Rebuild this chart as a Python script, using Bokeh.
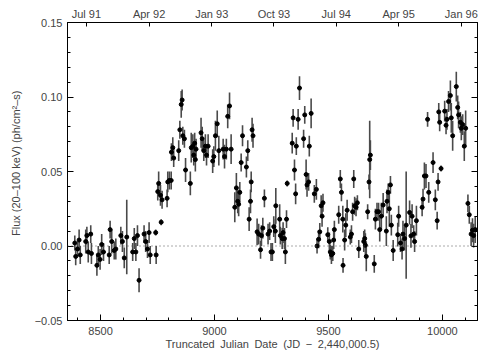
from bokeh.plotting import figure
from bokeh.models import Range1d, LinearAxis, FixedTicker, Span, ColumnDataSource
from bokeh.embed import file_html
from bokeh.resources import INLINE

# Truncated Julian Date of each measurement
tjd = [8387, 8391, 8399, 8406, 8411, 8435, 8440, 8446, 8457, 8460,
       8484, 8490, 8498, 8505, 8513, 8538, 8542, 8549, 8560, 8567,
       8589, 8596, 8604, 8615, 8641, 8648, 8655, 8662, 8669, 8691,
       8698, 8706, 8713, 8718, 8742, 8744, 8766,
       8751, 8755, 8763, 8770, 8792, 8795, 8802, 8810, 8811, 8817,
       8821, 8843, 8848, 8854, 8858, 8861, 8868, 8873, 8894, 8898,
       8905, 8909, 8913, 8916, 8919, 8941, 8946, 8953, 8960, 8965,
       8972, 8992, 8997, 9004, 9012, 9019, 9038, 9044, 9052, 9058,
       9066, 9073, 9089,
       9096, 9102, 9106, 9111, 9117, 9123, 9140, 9146, 9152, 9158,
       9161, 9165, 9169, 9187, 9194, 9202, 9206, 9212, 9219, 9235,
       9242, 9248, 9254, 9260, 9267, 9269, 9286, 9289, 9297, 9301,
       9307, 9311, 9316, 9319, 9341, 9345, 9351, 9356, 9359, 9367,
       9373, 9391, 9396, 9402, 9406, 9413, 9416, 9424, 9438,
       9447, 9450, 9457, 9462, 9468, 9472, 9476, 9497, 9504, 9508,
       9513, 9519, 9523, 9526, 9545, 9552, 9557, 9563, 9564, 9571,
       9576, 9582, 9596, 9601, 9606, 9611, 9615, 9621, 9627, 9633,
       9655, 9659, 9662, 9666, 9672, 9678, 9681, 9684, 9701, 9706,
       9713, 9720, 9725, 9732, 9740, 9754, 9757, 9762, 9767, 9772,
       9776, 9784,
       9804, 9808, 9816, 9823, 9827, 9834, 9841, 9856, 9862, 9867,
       9874, 9878, 9886, 9911, 9915, 9921, 9928, 9935, 9940, 9959,
       9969, 9977, 9981, 9984, 9988, 9994, 10010, 10016, 10020, 10027,
       10035, 10039, 10045, 10061, 10067, 10071, 10079, 10083, 10089, 10096,
       10102, 10112, 10118, 10126, 10132, 10137, 10144]

# Flux (20-100 keV), ph/cm^2-s
flux = [0.002, -0.007, -0.002, 0.004, -0.006, 0.003, 0.007, -0.004, 0.008, -0.005,
        -0.013, -0.006, -0.009, 0.001, -0.004, -0.006, 0.011, 0.003, -0.003, -0.002,
        0.007, 0.003, -0.008, 0.006, -0.004, 0.005, -0.004, 0.007, -0.023, 0.008,
        0.003, -0.002, 0.009, -0.006, 0.009, -0.006, 0.016,
        0.0365, 0.042, 0.034, 0.031, 0.032, 0.043, 0.044, 0.044, 0.063, 0.066,
        0.059, 0.064, 0.078, 0.095, 0.098, 0.074, 0.072, 0.051, 0.042, 0.066,
        0.067, 0.061, 0.069, 0.058, 0.065, 0.076, 0.072, 0.064, 0.067, 0.061,
        0.067, 0.057, 0.060, 0.074, 0.082, 0.064, 0.065, 0.060, 0.065, 0.087,
        0.094, 0.065, 0.026,
        0.039, 0.030, 0.028, 0.036, 0.056, 0.074, 0.053, 0.064, 0.018, 0.030,
        0.043, 0.078, 0.074, 0.0095, 0.008, -0.0025, 0.007, 0.012, 0.032, 0.008,
        0.010, -0.004, -0.004, 0.013, 0.010, 0.027, 0.018, 0.007, 0.005, 0.009,
        0.005, -0.004, 0.018, 0.042, 0.069, 0.086, 0.051, 0.035, 0.067, 0.085,
        0.106, 0.072, 0.088, 0.048, 0.041, 0.043, 0.067, 0.089, 0.035,
        0.038, 0.000, 0.0045, 0.0095, 0.027, 0.020, 0.029, 0.0076, 0.003, -0.004,
        -0.006, -0.005, 0.004, 0.011, 0.021, 0.045, 0.036, 0.018, -0.013, 0.004,
        0.014, 0.024, 0.006, 0.008, 0.023, 0.045, 0.027, 0.026, 0.029, -0.002,
        0.003, 0.005, 0.0005, -0.007, 0.023, 0.043, 0.058, 0.061, -0.012, 0.018,
        0.023, 0.023, 0.011, 0.020, 0.0275, 0.010, 0.030, 0.036, 0.025, 0.041,
        0.014, -0.003,
        0.0076, 0.020, 0.002, -0.002, 0.008, 0.005, 0.014, 0.0225, 0.0068, 0.020,
        0.008, 0.003, 0.017, 0.026, 0.0315, 0.047, 0.047, 0.085, 0.036, 0.056,
        0.031, 0.017, 0.043, 0.090, 0.083, 0.052, 0.0905, 0.081, 0.085, 0.097,
        0.101, 0.086, 0.074, 0.107, 0.093, 0.088, 0.083, 0.079, 0.0815, 0.067,
        0.079, 0.0286, 0.021, 0.008, 0.0106, 0.007, 0.011]

# 1-sigma uncertainty of each flux
err = [0.005, 0.006, 0.005, 0.007, 0.006, 0.008, 0.006, 0.007, 0.006, 0.007,
       0.007, 0.006, 0.007, 0.007, 0.006, 0.006, 0.006, 0.008, 0.006, 0.007,
       0.006, 0.007, 0.007, 0.025, 0.006, 0.007, 0.006, 0.007, 0.008, 0.006,
       0.007, 0.006, 0.007, 0.006, 0.002, 0.006, 0.002,
       0.006, 0.008, 0.007, 0.006, 0.006, 0.007, 0.006, 0.006, 0.006, 0.007,
       0.006, 0.007, 0.006, 0.009, 0.007, 0.006, 0.006, 0.008, 0.008, 0.010,
       0.008, 0.007, 0.007, 0.008, 0.007, 0.010, 0.008, 0.007, 0.008, 0.007,
       0.008, 0.008, 0.007, 0.010, 0.009, 0.010, 0.007, 0.008, 0.007, 0.008,
       0.009, 0.010, 0.010,
       0.010, 0.008, 0.008, 0.007, 0.006, 0.007, 0.007, 0.007, 0.008, 0.008,
       0.007, 0.008, 0.008, 0.009, 0.007, 0.006, 0.007, 0.007, 0.006, 0.007,
       0.006, 0.006, 0.006, 0.007, 0.008, 0.012, 0.010, 0.006, 0.007, 0.007,
       0.007, 0.008, 0.006, 0.002, 0.007, 0.006, 0.007, 0.007, 0.006, 0.007,
       0.008, 0.006, 0.006, 0.010, 0.008, 0.006, 0.007, 0.010, 0.006,
       0.007, 0.005, 0.006, 0.006, 0.007, 0.007, 0.006, 0.005, 0.006, 0.005,
       0.006, 0.005, 0.006, 0.006, 0.006, 0.006, 0.006, 0.009, 0.005, 0.007,
       0.008, 0.007, 0.005, 0.006, 0.006, 0.006, 0.006, 0.006, 0.005, 0.006,
       0.007, 0.006, 0.008, 0.010, 0.005, 0.005, 0.026, 0.010, 0.006, 0.007,
       0.006, 0.006, 0.008, 0.009, 0.008, 0.010, 0.008, 0.006, 0.012, 0.006,
       0.007, 0.007,
       0.008, 0.007, 0.006, 0.007, 0.009, 0.008, 0.036, 0.008, 0.008, 0.008,
       0.006, 0.007, 0.010, 0.006, 0.007, 0.009, 0.008, 0.005, 0.007, 0.007,
       0.007, 0.006, 0.006, 0.006, 0.006, 0.002, 0.007, 0.006, 0.007, 0.007,
       0.010, 0.010, 0.010, 0.010, 0.008, 0.009, 0.007, 0.008, 0.007, 0.010,
       0.012, 0.006, 0.006, 0.008, 0.008, 0.008, 0.009]

xticks = [8500, 9000, 9500, 10000]
xminor = [8400, 8600, 8700, 8800, 8900, 9100, 9200, 9300, 9400,
          9600, 9700, 9800, 9900, 10100]
date_ticks = [8438, 8713, 8988, 9261, 9534, 9808, 10083]
date_labels = ["Jul 91", "Apr 92", "Jan 93", "Oct 93", "Jul 94", "Apr 95", "Jan 96"]
yticks = [-0.05, 0.0, 0.05, 0.10, 0.15]
ylabels = ["\u22120.05", "0.00", "0.05", "0.10", "0.15"]
yminor = [-0.04, -0.03, -0.02, -0.01, 0.01, 0.02, 0.03, 0.04, 0.06, 0.07,
          0.08, 0.09, 0.11, 0.12, 0.13, 0.14]

FONT = "Liberation Sans"
TXT = "#444444"
FS = "11px"
SP = "\u2002"

lo = [f - e for f, e in zip(flux, err)]
hi = [f + e for f, e in zip(flux, err)]
src = ColumnDataSource(dict(x=tjd, y=flux, lo=lo, hi=hi))

p = figure(width=483, height=352, x_range=Range1d(8355, 10154), y_range=Range1d(-0.05, 0.15),
           output_backend="svg", toolbar_location=None,
           min_border_left=67, min_border_right=6, min_border_top=22, min_border_bottom=32)
p.xgrid.visible = False
p.ygrid.visible = False
p.outline_line_color = "black"
p.background_fill_color = "white"
p.border_fill_color = "white"

def style_axis(ax):
    ax.axis_line_color = "black"
    ax.major_tick_line_color = "black"
    ax.minor_tick_line_color = "black"
    ax.major_tick_in = 6
    ax.major_tick_out = 0
    ax.minor_tick_in = 3
    ax.minor_tick_out = 0
    ax.major_label_text_font = FONT
    ax.major_label_text_font_size = FS
    ax.major_label_text_color = TXT
    ax.axis_label_text_font = FONT
    ax.axis_label_text_font_size = FS
    ax.axis_label_text_font_style = "normal"
    ax.axis_label_text_color = TXT

xa = p.xaxis[0]
xa.ticker = FixedTicker(ticks=xticks, minor_ticks=xminor)
xa.major_label_overrides = {t: str(t) for t in xticks}
style_axis(xa)
xa.major_label_standoff = 6
xa.axis_label = SP.join(["Truncated", "Julian", "Date", "(JD", "\u2212", "2,440,000.5)"])
xa.axis_label_standoff = 0

ya = p.yaxis[0]
ya.ticker = FixedTicker(ticks=yticks, minor_ticks=yminor)
ya.major_label_overrides = dict(zip(yticks, ylabels))
style_axis(ya)
ya.major_label_standoff = 5
ya.axis_label = SP * 3 + "Flux (20\u2013100 keV) (ph/cm\u00b2\u2013s)"
ya.axis_label_standoff = 10

ra = LinearAxis(ticker=FixedTicker(ticks=yticks, minor_ticks=yminor))
style_axis(ra)
ra.major_label_overrides = {t: "" for t in yticks}
ra.major_label_standoff = 0
p.add_layout(ra, "right")

ta = LinearAxis(ticker=FixedTicker(ticks=date_ticks, minor_ticks=[]))
ta.major_label_overrides = dict(zip(date_ticks, date_labels))
style_axis(ta)
ta.major_tick_in = 4
ta.major_label_standoff = 3
p.add_layout(ta, "above")

p.add_layout(Span(location=0, dimension="width", line_color="#555555",
                  line_dash="1 3", line_width=1))

p.segment(x0="x", y0="lo", x1="x", y1="hi", source=src, line_color="#4a4a4a", line_width=1.6)
p.scatter(x="x", y="y", source=src, size=4, marker="circle",
          fill_color="black", line_color="black")

open("out.html", "w").write(file_html(p, INLINE))
